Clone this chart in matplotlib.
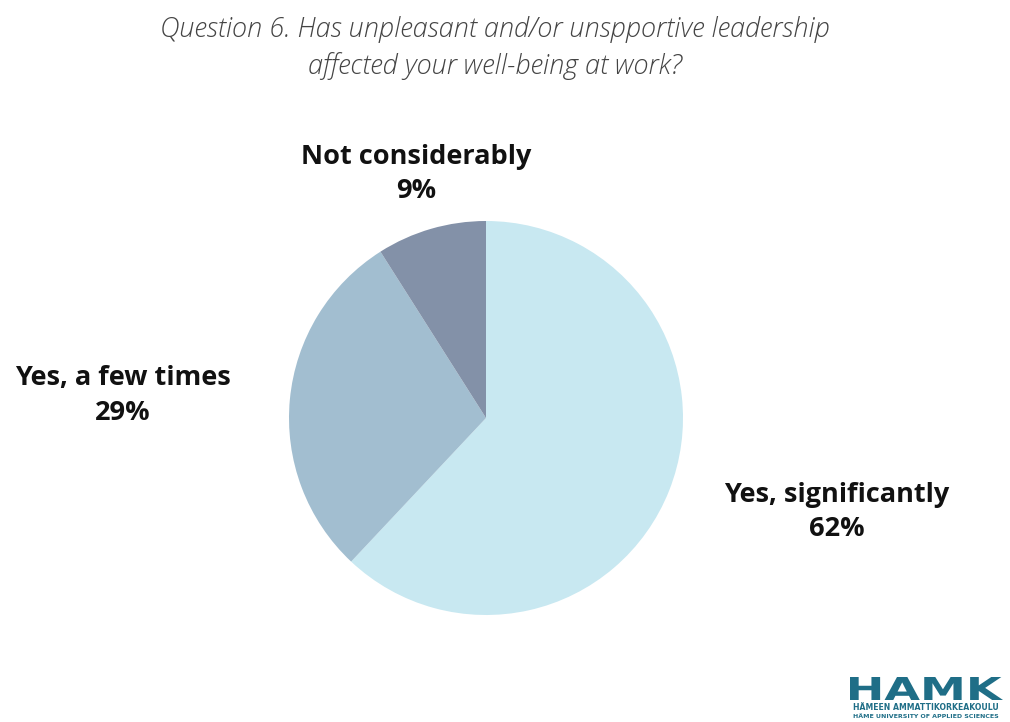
import matplotlib
matplotlib.use("Agg")
import matplotlib.pyplot as plt
from matplotlib.textpath import TextPath
from matplotlib.patches import PathPatch
from matplotlib.transforms import Affine2D

# Survey answers, question 6
answers = ["Yes, significantly", "Yes, a few times", "Not considerably"]
shares = [62, 29, 9]
colors = ["#C8E8F1", "#A2BED0", "#8391A8"]

title = "Question 6. Has unpleasant and/or unspportive leadership\naffected your well-being at work?"

W, H = 1010, 722
fig = plt.figure(figsize=(W / 100, H / 100), dpi=100)
ax = fig.add_axes([0, 0, 1, 1])
ax.set_xlim(0, W)
ax.set_ylim(0, H)
ax.set_aspect("equal")
ax.axis("off")

ax.pie(shares, colors=colors, startangle=90, counterclock=False,
       center=(486, H - 418), radius=197,
       wedgeprops=dict(linewidth=0))
ax.set_xlim(0, W)
ax.set_ylim(0, H)

# labels placed around the pie
label_pos = [(837, 512), (123, 395), (416, 174)]
for name, val, (x, y) in zip(answers, shares, label_pos):
    ax.text(x, H - y, f"{name}\n{val}%", ha="center", va="center",
            fontsize=19.5, fontweight="bold", family="Open Sans",
            linespacing=1.45, color="#111111")

ax.text(495, H - 48, title, ha="center", va="center", fontsize=19.5,
        style="italic", fontweight="light", family="Open Sans",
        color="#444444", linespacing=1.42)

# HAMK logo, stretched wide
logo = "#1F6E87"
tp = TextPath((0, 0), "HAMK", size=30, prop=dict(family="DejaVu Sans", weight="heavy"))
bb = tp.get_extents()
sx = 153 / bb.width
sy = 23 / bb.height
tr = Affine2D().translate(-bb.x0, -bb.y0).scale(sx, sy).translate(850, H - 700)
ax.add_patch(PathPatch(tr.transform_path(tp), color=logo, lw=0))
ax.text(926, H - 708, "HÄMEEN AMMATTIKORKEAKOULU", ha="center", va="center",
        fontsize=5.6, fontweight="bold", color=logo)
ax.text(926, H - 716, "HÄME UNIVERSITY OF APPLIED SCIENCES", ha="center",
        va="center", fontsize=4.5, fontweight="bold", color=logo)

fig.savefig("out.png", dpi=100, facecolor="white")
